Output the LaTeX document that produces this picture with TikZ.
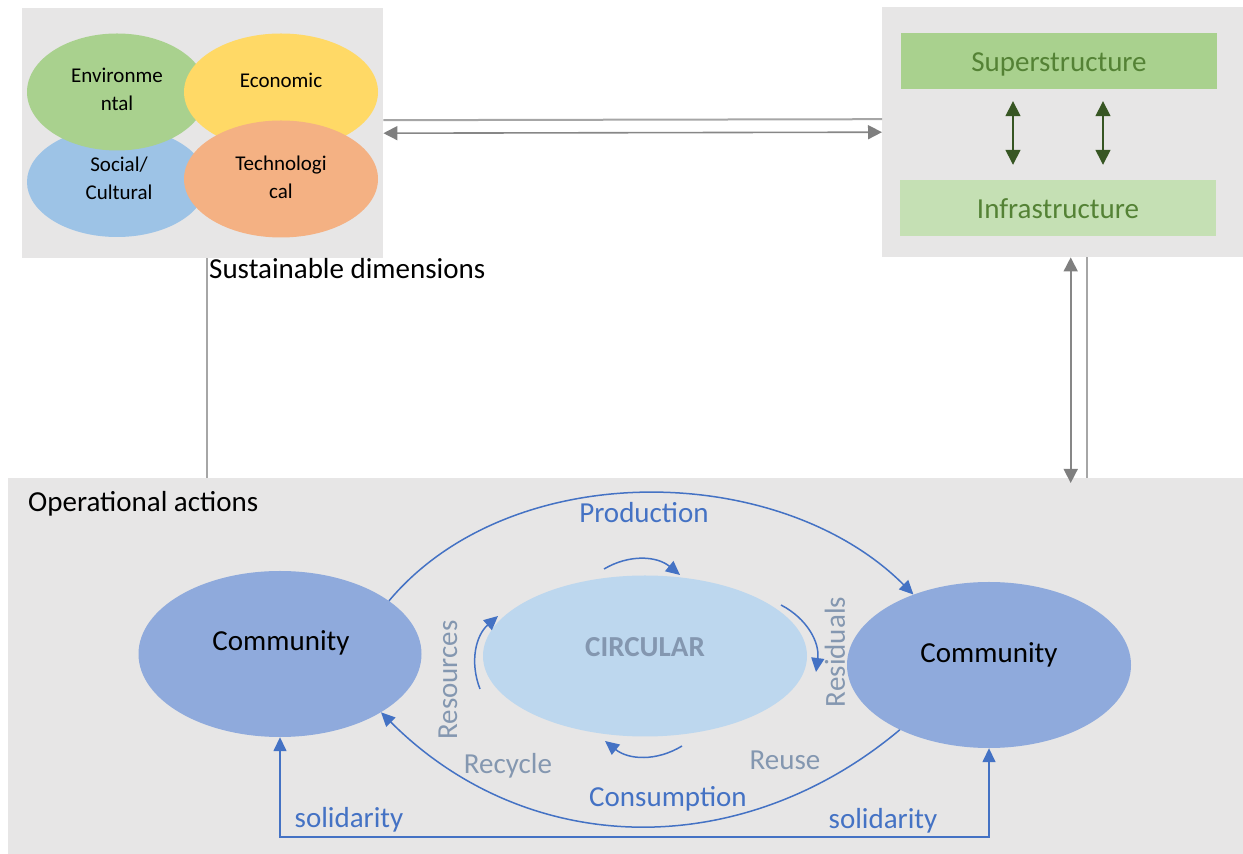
\documentclass[tikz,border=0pt]{standalone}
\usepackage{fontspec}
\setmainfont{Carlito}
\usetikzlibrary{arrows.meta, shapes.geometric}
\definecolor{boxgray}{HTML}{E7E6E6}
\definecolor{envgreen}{HTML}{A9D18E}
\definecolor{ecoyellow}{HTML}{FFD966}
\definecolor{socblue}{HTML}{9DC3E6}
\definecolor{techorange}{HTML}{F4B183}
\definecolor{infragreen}{HTML}{C5E0B4}
\definecolor{greentext}{HTML}{548235}
\definecolor{darkgreen}{HTML}{375623}
\definecolor{linegray}{HTML}{A6A6A6}
\definecolor{tipgray}{HTML}{7F7F7F}
\definecolor{comblue}{HTML}{8FAADC}
\definecolor{circblue}{HTML}{BDD7EE}
\definecolor{labelgray}{HTML}{8497B0}
\definecolor{accentblue}{HTML}{4472C4}

\begin{document}
\begin{tikzpicture}[x=1pt, y=1pt,
        panel/.style={fill=boxgray, inner sep=0pt, anchor=north west},
        oval/.style={ellipse, inner sep=0pt},
        txt/.style={font=\fontsize{29}{35}\selectfont},
        small/.style={font=\fontsize{21}{28}\selectfont, align=center},
        layer/.style={minimum width=316pt, minimum height=56pt, txt, text=greentext,
            text height=22pt, text depth=0pt},
        grayline/.style={draw=linegray, line width=2pt},
        grayarr/.style={draw=tipgray!80!linegray, line width=1.6pt,
            {Triangle[width=14pt,length=14pt,color=tipgray]}-{Triangle[width=14pt,length=14pt,color=tipgray]}},
        greenarr/.style={draw=darkgreen, line width=1.5pt,
            {Triangle[width=15pt,length=15pt]}-{Triangle[width=15pt,length=15pt]}},
        flowarr/.style={draw=accentblue, line width=1.5pt, -{Triangle[width=13pt,length=14pt]}}]
        \useasboundingbox (0,0) rectangle (1243,854);

        \node[panel, minimum width=361pt, minimum height=250pt] at (22,846)   (dims) {};
        \node[panel, minimum width=361pt, minimum height=250pt] at (882,847)  (struct) {};
        \node[panel, minimum width=1235pt, minimum height=376pt] at (8,376)   (ops) {};

        \node[oval, fill=socblue, minimum width=180pt, minimum height=110pt] at (117,672)     (soc) {};
        \node[oval, fill=envgreen, minimum width=180pt, minimum height=117pt] at (117,762)    (env) {};
        \node[oval, fill=ecoyellow, minimum width=194pt, minimum height=117pt] at (281,762)   (eco) {};
        \node[oval, fill=techorange, minimum width=194pt, minimum height=117pt] at (281,675)  (tech) {};
        \node[small] at (117,765)   (envtxt) {Environme\\ntal};
        \node[small] at (281,774)   (ecotxt) {Economic};
        \node[small] at (119,676)   (soctxt) {Social/\\Cultural};
        \node[small] at (281,677)   (techtxt) {Technologi\\cal};
        \node[txt, anchor=west, inner sep=0pt] at (209,585)   (dimslbl) {Sustainable dimensions};

        \node[layer, fill=envgreen] at (1059,793)     (super) {Superstructure};
        \node[layer, fill=infragreen] at (1058,646)   (infra) {Infrastructure};

        \draw [greenarr] ([xshift=-46pt,yshift=-12pt]super.south) -- ([xshift=-45pt,yshift=15pt]infra.north);
        \draw [greenarr] ([xshift=44pt,yshift=-12pt]super.south) -- ([xshift=45pt,yshift=15pt]infra.north);

        \draw [grayline] ([yshift=13pt]dims.east) -- ([yshift=13pt]struct.west);
        \draw [grayarr] (dims.east) -- (struct.west);
        \draw [grayline] ([xshift=4pt]dims.south) -- ([xshift=4pt]dims.south |- ops.north);
        \draw [grayarr] ([xshift=8pt]struct.south) -- ([xshift=8pt,yshift=-5pt]struct.south |- ops.north);
        \draw [grayline] ([xshift=24pt]struct.south) -- ([xshift=24pt]struct.south |- ops.north);

        \node[txt, anchor=west, inner sep=0pt] at (28,350)   (opslbl) {Operational actions};

        \node[oval, fill=comblue, minimum width=283pt, minimum height=166pt] at (280,200)   (comL) {};
        \node[txt] at (281,211)   (comLtxt) {Community};
        \node[oval, fill=comblue, minimum width=284pt, minimum height=166pt] at (989,189)   (comR) {};
        \node[txt] at (989,199)   (comRtxt) {Community};
        \node[oval, fill=circblue, minimum width=324pt, minimum height=161pt] at (645,198)  (circ) {};
        \node[txt, font=\fontsize{29}{35}\selectfont\bfseries, text=labelgray] at (645,207) (circtxt) {CIRCULAR};

        \draw [flowarr] (comL.26) to[out=50, in=135, looseness=0.92] (comR.137);
        \draw [flowarr] (comR.216) to[out=220, in=315, looseness=1.02] (comL.330);

        \coordinate (c1) at (604,285);
        \coordinate (c2) at (680,279);
        \coordinate (c3) at (781,249);
        \coordinate (c4) at (816,182);
        \coordinate (c5) at (682,108);
        \coordinate (c6) at (605,113);
        \coordinate (c7) at (480,165);
        \coordinate (c8) at (498,238);
        \draw [flowarr] (c1) to[bend left=35] (c2);
        \draw [flowarr] (c3) to[bend left=35] (c4);
        \draw [flowarr] (c5) to[bend left=35] (c6);
        \draw [flowarr] (c7) to[bend left=35] (c8);

        \coordinate (solbase) at (0,17);
        \draw [flowarr, {Triangle[width=13pt,length=14pt]}-{Triangle[width=13pt,length=14pt]}]
            (comL.south) -- (comL.south |- solbase) -| (comR.south);

        \node[txt, text=accentblue] at (644,341)   (prodlbl) {Production};
        \node[txt, text=accentblue] at (668,55)    (conslbl) {Consumption};
        \node[txt, text=accentblue] at (349,34)    (solLlbl) {solidarity};
        \node[txt, text=accentblue] at (883,33)    (solRlbl) {solidarity};
        \node[txt, text=labelgray, rotate=90] at (448,174)   (reslbl) {Resources};
        \node[txt, text=labelgray, rotate=90] at (835,202)   (residlbl) {Residuals};
        \node[txt, text=labelgray] at (508,88)     (recyclbl) {Recycle};
        \node[txt, text=labelgray] at (785,94)     (reuselbl) {Reuse};
    \end{tikzpicture}
\end{document}
